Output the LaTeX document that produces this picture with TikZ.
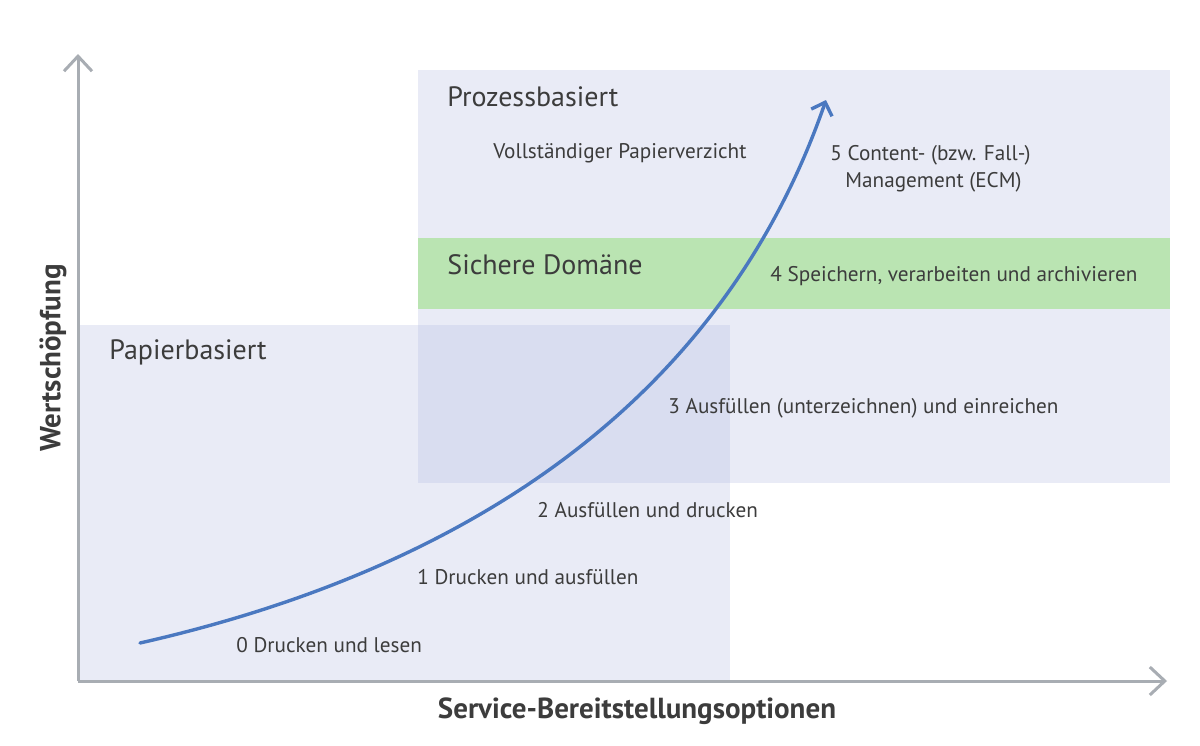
\documentclass[tikz,border=0pt]{standalone}
\usepackage{fontspec}
\setmainfont{PT Sans}
\usetikzlibrary{arrows.meta}
\definecolor{regionbg}{RGB}{233,235,246}
\definecolor{overlapbg}{RGB}{217,221,240}
\definecolor{greenband}{RGB}{186,228,178}
\definecolor{axisgray}{RGB}{168,173,179}
\definecolor{curveblue}{RGB}{74,120,192}
\definecolor{txt}{RGB}{60,60,60}
\tikzset{
  axisline/.style={draw=axisgray, line width=1.5pt, -{Straight Barb[length=7.5pt,width=14pt,line width=1.5pt]}},
  growth/.style={draw=curveblue, line width=1.7pt, line cap=round, -{Straight Barb[length=5.5pt,width=11pt,line width=1.7pt]}},
  lbl/.style={anchor=west, text=txt, font=\fontsize{10.6}{13}\selectfont, inner sep=0pt},
  head/.style={anchor=west, text=txt, font=\fontsize{14}{16}\selectfont, inner sep=0pt},
  axlbl/.style={text=txt, font=\fontsize{14.5}{17}\selectfont\bfseries, inner sep=0pt}
}
\begin{document}
\begin{tikzpicture}[x=0.5pt,y=-0.5pt]
\useasboundingbox (0,0) rectangle (1200,745);
\fill[white] (0,0) rectangle (1200,745);
% regions
\fill[regionbg] (418,70) rectangle (1170,483);
\fill[regionbg] (78,325) rectangle (730,680);
\fill[overlapbg] (418,325) rectangle (730,483);
\fill[greenband] (418,238) rectangle (1170,309);
% axes
\coordinate (origin) at (78,681);
\coordinate (ytop) at (78,54);
\coordinate (xend) at (1167,681);
\draw[axisline] (origin) -- (ytop);
\draw[axisline] (origin) -- (xend);
\node[axlbl, rotate=90] (ylab) at (53,358) {Wertschöpfung};
\node[axlbl] (xlab) at (637,711) {Service-Bereitstellungsoptionen};
% headings
\node[head] (proz) at (447,97) {Prozessbasiert};
\node[head] (sich) at (447,265) {Sichere Domäne};
\node[head] (papier) at (109,352) {Papierbasiert};
% labels
\node[lbl] (verz) at (493,153) {Vollständiger Papierverzicht};
\node[lbl] (l5a) at (830,155) {5 Content- (bzw. Fall-)};
\node[lbl] (l5b) at (845,182) {Management (ECM)};
\node[lbl] (l4) at (770,276) {4 Speichern, verarbeiten und archivieren};
\node[lbl] (l3) at (668,408) {3 Ausfüllen (unterzeichnen) und einreichen};
\node[lbl] (l2) at (537,510) {2 Ausfüllen und drucken};
\node[lbl] (l1) at (417,577) {1 Drucken und ausfüllen};
\node[lbl] (l0) at (236,645) {0 Drucken und lesen};
% curve
\coordinate (cstart) at (140,643);
\coordinate (cend) at (826,100);
\draw[growth] (cstart) .. controls (480,566) and (725,392) .. (cend);
\end{tikzpicture}
\end{document}
